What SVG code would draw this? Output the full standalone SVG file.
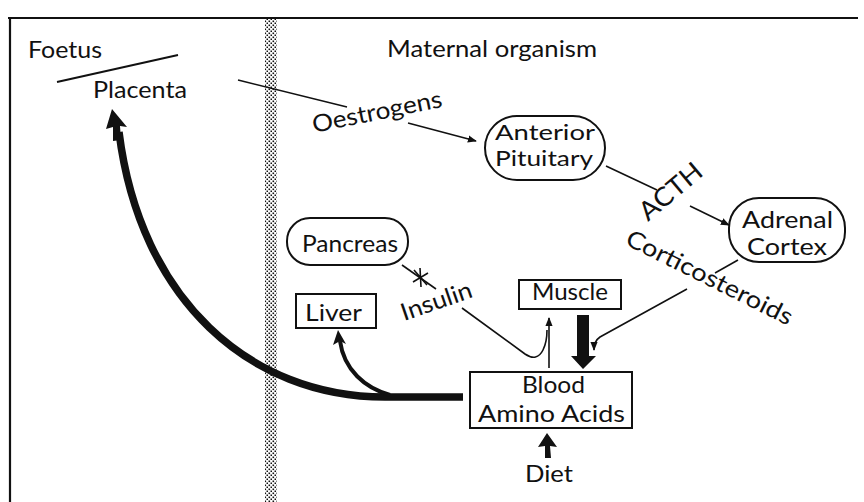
<svg xmlns="http://www.w3.org/2000/svg" width="864" height="502" viewBox="0 0 864 502">
<defs>
<pattern id="dots" width="4" height="4" patternUnits="userSpaceOnUse">
<rect x="0.5" y="0.5" width="1.6" height="1.6" fill="#111"/>
<rect x="2.5" y="2.5" width="1.6" height="1.6" fill="#111"/>
</pattern>
<marker id="ah" viewBox="0 0 10 10" refX="9" refY="5" markerWidth="9" markerHeight="9" markerUnits="userSpaceOnUse" orient="auto">
<path d="M0,1 L10,5 L0,9 Z" fill="#111"/>
</marker>
</defs>
<style>
text{font-family:Lato,"Open Sans","Liberation Sans",sans-serif;font-size:24px;fill:#111}
.sm{font-size:22px}
.box{fill:#fff;stroke:#111;stroke-width:2}
.thin{fill:none;stroke:#111;stroke-width:1.6}
.thick{fill:none;stroke:#111;stroke-linecap:butt}
</style>
<rect width="864" height="502" fill="#fff"/>
<g id="frame">
<line x1="8" y1="18" x2="858" y2="18" stroke="#111" stroke-width="2.2"/>
<line x1="10" y1="17" x2="10" y2="502" stroke="#111" stroke-width="2.2"/>
<rect x="265" y="19" width="12" height="483" fill="url(#dots)"/>
</g>
<g id="labels">
<text x="28" y="58" textLength="74" lengthAdjust="spacingAndGlyphs">Foetus</text>
<text x="387" y="57" textLength="210" lengthAdjust="spacingAndGlyphs">Maternal organism</text>
</g>
<g id="connectors">
<line x1="57" y1="82" x2="178" y2="55" stroke="#111" stroke-width="2"/>
<line x1="238" y1="80" x2="347" y2="107" class="thin"/>
<line x1="408" y1="123" x2="476" y2="141" class="thin" marker-end="url(#ah)"/>
<line x1="606" y1="166" x2="657" y2="190" class="thin"/>
<line x1="690" y1="206" x2="729" y2="225" class="thin" marker-end="url(#ah)"/>
<line x1="738" y1="260" x2="715" y2="273" class="thin"/>
<path d="M687,289 L600,337 Q594,341 594,350" class="thin" marker-end="url(#ah)"/>
<line x1="402" y1="265" x2="436" y2="289" class="thin"/>
<path d="M414,270 L427,285 M413,282 L428,273 M420,268 L421,287" class="thin" stroke-width="1.2"/>
<path d="M462,308 L525,354 Q537,362 543,350 Q547,342 547,330" class="thin"/>
<line x1="549" y1="368" x2="549" y2="318" class="thin" marker-end="url(#ah)"/>
<path d="M463,397 L385,397 C250,397 140,300 119,132" class="thick" stroke-width="7.5"/>
<polygon points="112,109 127,127 120,126 121,140 113,141 113,127 106,129" fill="#111"/>
<path d="M390,395 C365,388 344,370 340,341" class="thick" stroke-width="4"/>
<polygon points="338,330 346,344 340,341 333,345" fill="#111"/>
<polygon points="577,315 589,315 589,356 596,356 583,369 571,356 577,356" fill="#111"/>
<polygon points="547,433 557,447 550,446 551,458 545,458 545,446 538,447" fill="#111"/>
</g>
<g id="placenta"><text x="93" y="98" textLength="94" lengthAdjust="spacingAndGlyphs">Placenta</text></g>
<g id="oestrogens"><text transform="translate(314,133) rotate(-11.5)" textLength="132" lengthAdjust="spacingAndGlyphs">Oestrogens</text></g>
<g id="anterior-pituitary">
<rect class="box" x="485" y="116" width="120" height="64" rx="32"/>
<text class="sm" x="495" y="140" textLength="100" lengthAdjust="spacingAndGlyphs">Anterior</text>
<text class="sm" x="495" y="166" textLength="98" lengthAdjust="spacingAndGlyphs">Pituitary</text>
</g>
<g id="acth"><text transform="translate(648,222) rotate(-40)" style="font-size:26px" textLength="74" lengthAdjust="spacingAndGlyphs">ACTH</text></g>
<g id="adrenal-cortex">
<rect class="box" x="729" y="198" width="116" height="64" rx="30"/>
<text x="742" y="228" textLength="91" lengthAdjust="spacingAndGlyphs">Adrenal</text>
<text x="747" y="255" textLength="80" lengthAdjust="spacingAndGlyphs">Cortex</text>
</g>
<g id="corticosteroids"><text transform="translate(624,244) rotate(26.5)" textLength="183" lengthAdjust="spacingAndGlyphs">Corticosteroids</text></g>
<g id="pancreas">
<rect class="box" x="287" y="218" width="121" height="47" rx="23"/>
<text x="302" y="252" textLength="96" lengthAdjust="spacingAndGlyphs">Pancreas</text>
</g>
<g id="insulin"><text transform="translate(404,321) rotate(-19)" textLength="74" lengthAdjust="spacingAndGlyphs">Insulin</text></g>
<g id="liver">
<rect class="box" x="296" y="294" width="80" height="34"/>
<text x="305" y="321" textLength="57" lengthAdjust="spacingAndGlyphs">Liver</text>
</g>
<g id="muscle">
<rect class="box" x="519" y="280" width="102" height="29"/>
<text x="532" y="300" textLength="76" lengthAdjust="spacingAndGlyphs">Muscle</text>
</g>
<g id="blood-amino-acids">
<rect class="box" x="470" y="372" width="162" height="56"/>
<text x="522" y="393" textLength="63" lengthAdjust="spacingAndGlyphs">Blood</text>
<text x="478" y="422" textLength="147" lengthAdjust="spacingAndGlyphs">Amino Acids</text>
</g>
<g id="diet"><text x="525" y="482" textLength="48" lengthAdjust="spacingAndGlyphs">Diet</text></g>
</svg>
